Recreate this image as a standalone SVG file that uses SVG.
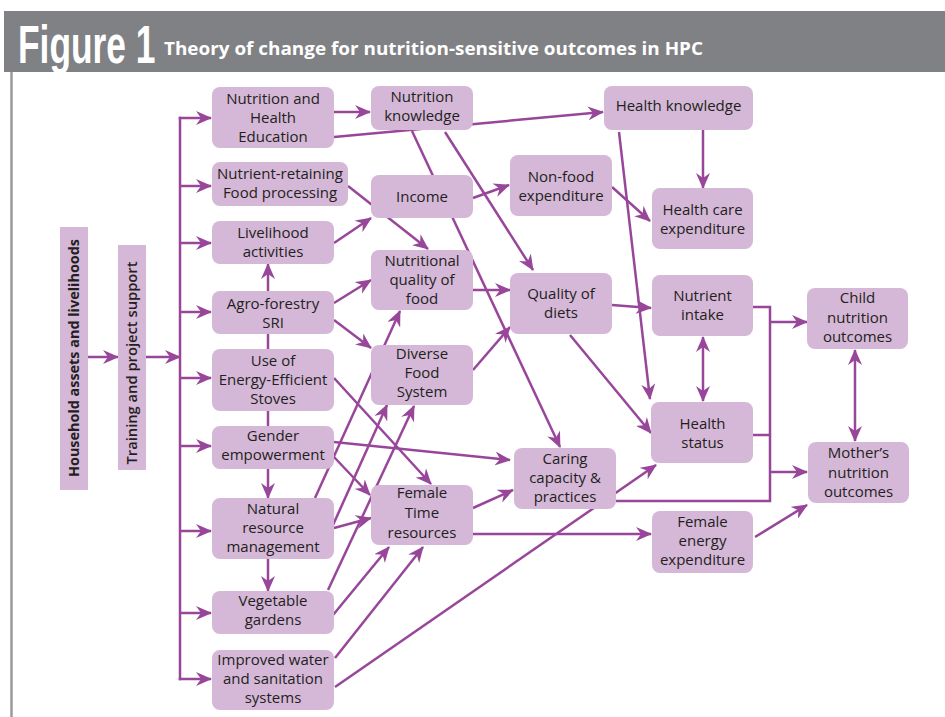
<svg xmlns="http://www.w3.org/2000/svg" width="945" height="717" viewBox="0 0 945 717">
<style>
.bx{fill:#d5b7d7;}
.t{font-family:"Open Sans","Noto Sans","Liberation Sans",sans-serif;font-size:15px;fill:#231f20;text-anchor:middle;}
.c{stroke:#98469a;stroke-width:2.5;fill:none;}
.a{marker-end:url(#ah);}
.d{marker-start:url(#ah);marker-end:url(#ah);}
</style>
<defs>
<marker id="ah" markerUnits="userSpaceOnUse" markerWidth="18" markerHeight="14" refX="15" refY="7" orient="auto-start-reverse" viewBox="0 0 18 14">
<path d="M0,0 L16,7 L0,14 L5,7 Z" fill="#98469a"/>
</marker>
</defs>
<rect width="945" height="717" fill="#ffffff"/>
<g id="header">
<rect x="4" y="11" width="941" height="61" fill="#808184"/>
<line x1="11.5" y1="72" x2="11.5" y2="717" stroke="#9a9a9c" stroke-width="2.5"/>
<text transform="translate(18,63) scale(0.655,1)" font-family="'Liberation Sans',Arial,sans-serif" font-weight="bold" font-size="54" fill="#ffffff">Figure 1</text>
<text x="164" y="55" font-family="'Open Sans','Liberation Sans',sans-serif" font-weight="bold" font-size="17" fill="#ffffff" textLength="539" lengthAdjust="spacingAndGlyphs">Theory of change for nutrition-sensitive outcomes in HPC</text>
</g>
<g id="connectors">
<line class="c a" x1="88" y1="357" x2="118" y2="357"/>
<line class="c a" x1="146" y1="357" x2="180" y2="357"/>
<line class="c" x1="180" y1="116.75" x2="180" y2="680.25"/>
<line class="c a" x1="178.75" y1="118" x2="211" y2="118"/>
<line class="c a" x1="180" y1="186" x2="211" y2="186"/>
<line class="c a" x1="180" y1="243" x2="211" y2="243"/>
<line class="c a" x1="180" y1="312" x2="211" y2="312"/>
<line class="c a" x1="180" y1="378" x2="211" y2="378"/>
<line class="c a" x1="180" y1="446" x2="211" y2="446"/>
<line class="c a" x1="180" y1="531" x2="211" y2="531"/>
<line class="c a" x1="180" y1="613" x2="211" y2="613"/>
<line class="c a" x1="178.75" y1="679" x2="211" y2="679"/>
<line class="c a" x1="334" y1="112" x2="370" y2="112"/>
<line class="c a" x1="334" y1="137" x2="603" y2="112"/>
<line class="c a" x1="412" y1="131" x2="560" y2="447"/>
<line class="c a" x1="445" y1="132" x2="533" y2="270"/>
<line class="c a" x1="348" y1="186" x2="428" y2="249"/>
<line class="c a" x1="334" y1="243" x2="371" y2="218"/>
<line class="c a" x1="473" y1="198" x2="509" y2="185"/>
<line class="c a" x1="612" y1="187" x2="650" y2="221"/>
<line class="c a" x1="703" y1="130" x2="703" y2="188"/>
<line class="c a" x1="619" y1="132" x2="650" y2="399"/>
<line class="c a" x1="268" y1="291" x2="268" y2="264"/>
<line class="c a" x1="334" y1="303" x2="371" y2="280"/>
<line class="c a" x1="334" y1="320" x2="371" y2="348"/>
<line class="c" x1="268" y1="334" x2="268" y2="349"/>
<line class="c" x1="268" y1="411" x2="268" y2="426"/>
<line class="c a" x1="268" y1="469" x2="268" y2="498"/>
<line class="c a" x1="268" y1="559" x2="268" y2="591"/>
<line class="c a" x1="473" y1="290" x2="510" y2="290"/>
<line class="c a" x1="473" y1="370" x2="510" y2="327"/>
<line class="c a" x1="315" y1="498" x2="400" y2="311"/>
<line class="c a" x1="334" y1="378" x2="431" y2="484"/>
<line class="c a" x1="334" y1="442" x2="510" y2="460"/>
<line class="c a" x1="334" y1="457" x2="370" y2="495"/>
<line class="c a" x1="333" y1="525" x2="387" y2="405"/>
<line class="c a" x1="334" y1="528" x2="371" y2="518"/>
<line class="c a" x1="328" y1="590" x2="414" y2="406"/>
<line class="c a" x1="333" y1="615" x2="389" y2="547"/>
<line class="c a" x1="335" y1="658" x2="423" y2="547"/>
<line class="c a" x1="335" y1="687" x2="656" y2="465"/>
<line class="c a" x1="473" y1="508" x2="513" y2="490"/>
<line class="c a" x1="473" y1="534" x2="651" y2="534"/>
<line class="c a" x1="612" y1="305" x2="651" y2="308"/>
<line class="c a" x1="570" y1="335" x2="651" y2="433"/>
<polyline class="c" points="753,307 770,307 770,501 616,501"/>
<line class="c" x1="753" y1="435" x2="770" y2="435"/>
<line class="c a" x1="770" y1="322" x2="807" y2="322"/>
<line class="c a" x1="770" y1="472" x2="807" y2="472"/>
<line class="c d" x1="703" y1="337" x2="703" y2="401"/>
<line class="c d" x1="855" y1="350" x2="855" y2="441"/>
<line class="c a" x1="755" y1="537" x2="807" y2="505"/>
</g>
<g id="n-household"><rect class="bx" x="60" y="227" width="28" height="263"/><text transform="translate(79,358) rotate(-90)" font-family="'Open Sans','Liberation Sans',sans-serif" font-weight="bold" font-size="14" fill="#231f20" text-anchor="middle" textLength="238" lengthAdjust="spacingAndGlyphs">Household assets and livelihoods</text></g>
<g id="n-training"><rect class="bx" x="118" y="245" width="28" height="225"/><text transform="translate(137,363) rotate(-90)" font-family="'Open Sans','Liberation Sans',sans-serif" font-weight="600" font-size="14" fill="#231f20" text-anchor="middle" textLength="203" lengthAdjust="spacingAndGlyphs">Training and project support</text></g>
<g id="n-nhe"><rect class="bx" x="212" y="87" width="122" height="61" rx="8"/><text class="t" x="273"><tspan x="273" y="104">Nutrition and</tspan><tspan x="273" y="123">Health</tspan><tspan x="273" y="142">Education</tspan></text></g>
<g id="n-nrfp"><rect class="bx" x="212" y="162" width="136" height="44" rx="8"/><text class="t"><tspan x="280" y="179">Nutrient-retaining</tspan><tspan x="280" y="198">Food processing</tspan></text></g>
<g id="n-livelihood"><rect class="bx" x="212" y="221" width="122" height="43" rx="8"/><text class="t"><tspan x="273" y="238">Livelihood</tspan><tspan x="273" y="257">activities</tspan></text></g>
<g id="n-agro"><rect class="bx" x="212" y="291" width="122" height="43" rx="8"/><text class="t"><tspan x="273" y="309">Agro-forestry</tspan><tspan x="273" y="328">SRI</tspan></text></g>
<g id="n-stoves"><rect class="bx" x="212" y="349" width="122" height="62" rx="8"/><text class="t"><tspan x="273" y="366">Use of</tspan><tspan x="273" y="385">Energy-Efficient</tspan><tspan x="273" y="404">Stoves</tspan></text></g>
<g id="n-gender"><rect class="bx" x="212" y="426" width="122" height="43" rx="8"/><text class="t"><tspan x="273" y="441">Gender</tspan><tspan x="273" y="460">empowerment</tspan></text></g>
<g id="n-nrm"><rect class="bx" x="212" y="498" width="122" height="61" rx="8"/><text class="t"><tspan x="273" y="514">Natural</tspan><tspan x="273" y="533">resource</tspan><tspan x="273" y="552">management</tspan></text></g>
<g id="n-veg"><rect class="bx" x="212" y="591" width="122" height="43" rx="8"/><text class="t"><tspan x="273" y="606">Vegetable</tspan><tspan x="273" y="625">gardens</tspan></text></g>
<g id="n-water"><rect class="bx" x="212" y="650" width="122" height="60" rx="8"/><text class="t"><tspan x="273" y="665">Improved water</tspan><tspan x="273" y="684">and sanitation</tspan><tspan x="273" y="703">systems</tspan></text></g>
<g id="n-nk"><rect class="bx" x="371" y="86" width="102" height="44" rx="8"/><text class="t"><tspan x="422" y="102">Nutrition</tspan><tspan x="422" y="121">knowledge</tspan></text></g>
<g id="n-income"><rect class="bx" x="371" y="175" width="102" height="43" rx="8"/><text class="t" x="422" y="202">Income</text></g>
<g id="n-nqf"><rect class="bx" x="371" y="250" width="102" height="60" rx="8"/><text class="t"><tspan x="422" y="266">Nutritional</tspan><tspan x="422" y="285">quality of</tspan><tspan x="422" y="304">food</tspan></text></g>
<g id="n-dfs"><rect class="bx" x="371" y="345" width="102" height="60" rx="8"/><text class="t"><tspan x="422" y="359">Diverse</tspan><tspan x="422" y="378">Food</tspan><tspan x="422" y="397">System</tspan></text></g>
<g id="n-ftr"><rect class="bx" x="371" y="485" width="102" height="60" rx="8"/><text class="t"><tspan x="422" y="498">Female</tspan><tspan x="422" y="518">Time</tspan><tspan x="422" y="538">resources</tspan></text></g>
<g id="n-nfe"><rect class="bx" x="510" y="155" width="102" height="61" rx="8"/><text class="t"><tspan x="561" y="182">Non-food</tspan><tspan x="561" y="201">expenditure</tspan></text></g>
<g id="n-qd"><rect class="bx" x="510" y="273" width="102" height="61" rx="8"/><text class="t"><tspan x="561" y="299">Quality of</tspan><tspan x="561" y="318">diets</tspan></text></g>
<g id="n-caring"><rect class="bx" x="514" y="448" width="102" height="61" rx="8"/><text class="t"><tspan x="565" y="464">Caring</tspan><tspan x="565" y="483">capacity &amp;</tspan><tspan x="565" y="502">practices</tspan></text></g>
<g id="n-hk"><rect class="bx" x="604" y="86" width="149" height="44" rx="8"/><text class="t" x="678.5" y="111">Health knowledge</text></g>
<g id="n-hce"><rect class="bx" x="652" y="188" width="101" height="61" rx="8"/><text class="t"><tspan x="702.5" y="215">Health care</tspan><tspan x="702.5" y="234">expenditure</tspan></text></g>
<g id="n-ni"><rect class="bx" x="652" y="275" width="101" height="61" rx="8"/><text class="t"><tspan x="702.5" y="301">Nutrient</tspan><tspan x="702.5" y="320">intake</tspan></text></g>
<g id="n-hs"><rect class="bx" x="651" y="402" width="102" height="61" rx="8"/><text class="t"><tspan x="702.5" y="429">Health</tspan><tspan x="702.5" y="448">status</tspan></text></g>
<g id="n-fee"><rect class="bx" x="652" y="511" width="101" height="62" rx="8"/><text class="t"><tspan x="702.5" y="527">Female</tspan><tspan x="702.5" y="546">energy</tspan><tspan x="702.5" y="565">expenditure</tspan></text></g>
<g id="n-child"><rect class="bx" x="807" y="288" width="101" height="61" rx="8"/><text class="t"><tspan x="857.5" y="303">Child</tspan><tspan x="857.5" y="323">nutrition</tspan><tspan x="857.5" y="342">outcomes</tspan></text></g>
<g id="n-mother"><rect class="bx" x="808" y="442" width="101" height="61" rx="8"/><text class="t"><tspan x="858.5" y="458">Mother’s</tspan><tspan x="858.5" y="478">nutrition</tspan><tspan x="858.5" y="497">outcomes</tspan></text></g>
</svg>
